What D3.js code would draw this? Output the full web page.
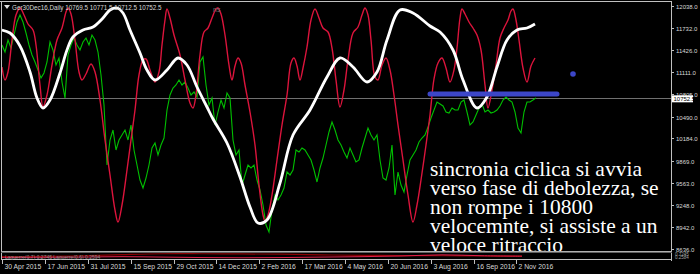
<!doctype html>
<html>
<head>
<meta charset="utf-8"/>
<style>
    html, body { margin: 0; padding: 0; background: #000; }
    svg { display: block; }
</style>
<script src="https://d3js.org/d3.v7.min.js"></script>
</head>
<body>
<svg id="chart" width="700" height="274"></svg>
<script>

// ---- data (price units, x = daily bar index) ----
var symbolTitle = "Ger30Dec16,Daily  10769.5 10771.5 10712.5 10752.5";
var lastPrice = 10752.5;
var priceTicks = [12038, 11732, 11426, 11111, 10805, 10490, 10184, 9869, 9563, 9248, 8942, 8636];
var dateLabels = ["30 Apr 2015", "17 Jun 2015", "31 Jul 2015", "15 Sep 2015", "29 Oct 2015", "14 Dec 2015",
                  "2 Feb 2016", "17 Mar 2016", "4 May 2016", "20 Jun 2016", "3 Aug 2016", "16 Sep 2016", "2 Nov 2016"];
var dateBars = [0, 43, 86, 129, 172, 214, 257, 300, 343, 386, 429, 472, 514];

// close prices, one value every 3 bars
var closeStep = 3;
var closes = [
    11492,11394,11562,11450,11632,11814,11912,11814,11660,11492,
    11352,11254,11142,11030,11100,11254,11534,11422,11212,11310,
    10974,10750,11352,11492,11590,11492,11422,11534,11590,11492,
    11632,11562,11394,11072,10652,9812,10162,10302,10022,10162,
    10232,10302,10162,10372,10022,9812,9602,9490,9630,9812,
    10050,10120,9952,10092,10190,10582,10792,10890,10932,11002,
    10932,10974,10890,10792,10834,10764,11254,11324,10932,10652,
    10750,10372,10554,10722,10610,10820,10750,10162,9952,10022,
    9532,9672,9812,9770,9812,9602,9462,9252,8972,8874,
    9182,9392,9322,9392,9490,9714,9672,9742,10022,9994,
    10050,10022,9952,9882,9742,9574,9770,9910,10092,10274,
    10414,10302,10162,10092,9994,9910,10050,9952,9854,9882,
    10050,10190,10330,10232,10162,10232,9882,9630,9602,9770,
    10092,9392,9714,9532,9434,9672,9882,9952,10022,10134,
    10190,10232,10344,10470,10582,10694,10666,10638,10554,10540,
    10610,10582,10582,10694,10722,10554,10372,10414,10512,10610,
    10666,10554,10582,10540,10554,10582,10638,10722,10764,10722,
    10694,10554,10330,10260,10554,10694,10694,10722,10752.5
];

// slow cycle (white) [bar, value]
var slowCycle = [[0,11702],[8,11660],[18,11478],[28,11114],[35,10750],[41,10610],[48,10722],[58,11100],[65,11422],
    [71,11604],[81,11702],[91,11744],[101,11870],[108,11982],[115,12010],[121,11940],[128,11702],[138,11380],
    [145,11142],[153,11002],[165,11142],[176,11310],[185,11212],[195,10904],[205,10624],[211,10456],[225,10120],
    [238,9644],[248,9224],[256,9000],[265,9042],[278,9560],[291,10232],[308,10582],[325,11044],[338,11310],
    [351,11184],[365,10974],[375,11114],[385,11562],[398,11982],[411,11940],[428,11758],[438,11674],[451,11422],
    [461,11002],[475,10610],[485,10764],[495,11184],[505,11562],[515,11702],[525,11730],[533,11786]];

// fast cycle (red) [bar, value]
var fastCycle = [[0,11184],[3,11002],[6,11114],[10,11562],[14,11912],[18,12010],[22,11912],[26,11786],[31,11702],
    [34,11492],[38,10932],[41,10624],[45,10792],[50,11212],[55,11562],[60,11730],[64,11954],[66,12010],[69,11926],
    [73,11562],[77,11114],[80,11002],[84,11086],[89,11226],[93,11114],[98,10722],[103,10162],[108,9672],[113,9182],
    [116,9014],[120,9252],[125,9742],[129,10162],[133,10582],[137,11072],[141,11282],[144,11296],[148,11142],
    [153,10974],[157,11114],[160,11492],[163,11842],[165,11996],[168,11870],[172,11632],[178,11352],[183,11002],
    [188,10680],[191,10610],[194,10792],[198,11352],[202,11674],[206,11730],[210,11870],[214,11996],[216,12010],
    [219,11926],[223,11632],[227,11212],[230,11002],[233,11198],[236,11310],[239,11240],[243,10932],[248,10554],
    [253,10092],[257,9532],[261,9112],[263,9028],[266,9112],[270,9392],[275,9882],[280,10372],[285,10792],
    [289,11240],[292,11310],[295,11198],[298,11002],[301,11170],[305,11464],[309,11842],[313,11996],[317,11870],
    [321,11730],[326,11674],[330,11450],[334,11002],[338,10624],[342,10862],[346,11282],[351,11660],[356,11744],
    [360,11912],[363,12010],[366,11912],[369,11562],[373,11044],[376,11002],[380,11212],[384,11310],[388,11142],
    [392,10792],[396,10372],[401,9882],[406,9392],[411,9014],[415,9252],[419,9602],[424,10092],[428,10512],
    [432,11016],[436,11240],[440,11310],[444,11170],[448,10974],[452,11142],[455,11450],[458,11870],[460,11996],
    [463,11926],[467,11814],[471,11730],[475,11632],[479,11422],[483,10932],[486,10610],[490,10862],[494,11212],
    [498,11590],[502,11730],[506,11842],[509,11968],[511,11996],[514,11842],[517,11562],[521,11170],[525,10974],
    [529,11198],[533,11310]];

// drawn level and marker
var levelPrice = 10805, levelFrom = 428, levelTo = 555;
var markerBar = 571, markerPrice = 11086;

// sub window (0..1), one value every 40 bars
var subStep = 40;
var lagSlow = [0.3, 0.35, 0.5, 0.75, 0.95, 0.95, 0.9, 0.85, 0.7, 0.6, 0.55, 0.5, 0.45, 0.4];
var lagFast = [0.1, 0.15, 0.2, 0.3, 0.2, 0.1, 0.05, 0.1, 0.2, 0.3, 0.45, 0.7, 0.5, 0.4];
var subLabel = "Laguerre(0.7) 0.2745   Laguerre(0.6) 0.2594";
var subAxisLabels = ["0.7245", "0.2584"];

var noteLines = ["sincronia ciclica si avvia", "verso fase di debolezza, se", "non rompe i 10800",
                 "velocemnte, si assiste a un", "veloce ritraccio"];

// ---- drawing ----
var svg = d3.select("#chart");
var uiFont = "'Liberation Sans', Arial, sans-serif";

var x = d3.scaleLinear().domain([0, 669]).range([2, 671]);
var y = d3.scaleLinear().domain([8636, 12038]).range([249, 6]);
var ySub = d3.scaleLinear().domain([0, 1]).range([258, 253.5]);

svg.append("rect").attr("width", 700).attr("height", 274).attr("fill", "#000");

svg.append("clipPath").attr("id", "pane")
    .append("rect").attr("x", 2).attr("y", 2).attr("width", 669).attr("height", 249);
svg.append("clipPath").attr("id", "sub")
    .append("rect").attr("x", 2).attr("y", 253).attr("width", 669).attr("height", 6);

// bid line
svg.append("line")
    .attr("x1", 2).attr("x2", 671)
    .attr("y1", Math.round(y(lastPrice)) + 0.5).attr("y2", Math.round(y(lastPrice)) + 0.5)
    .attr("stroke", "#707070").attr("stroke-width", 1);

var pane = svg.append("g").attr("clip-path", "url(#pane)");

var closeLine = d3.line()
    .x(function(d, i) { return x(i * closeStep); })
    .y(function(d) { return y(d); });
pane.append("path").datum(closes)
    .attr("d", closeLine).attr("fill", "none")
    .attr("stroke", "#00c000").attr("stroke-width", 1.1);

var cycleLine = d3.line()
    .x(function(d) { return x(d[0]); })
    .y(function(d) { return y(d[1]); })
    .curve(d3.curveCatmullRom.alpha(0.5));

pane.append("path").datum(fastCycle)
    .attr("d", cycleLine).attr("fill", "none")
    .attr("stroke", "#dc143c").attr("stroke-width", 1.4);

pane.append("path").datum(slowCycle)
    .attr("d", cycleLine).attr("fill", "none")
    .attr("stroke", "#ffffff").attr("stroke-width", 2.8);

// hand drawn level + dot
pane.append("line")
    .attr("x1", x(levelFrom)).attr("x2", x(levelTo))
    .attr("y1", y(levelPrice)).attr("y2", y(levelPrice))
    .attr("stroke", "#3c46c8").attr("stroke-width", 5).attr("stroke-linecap", "round");
pane.append("circle")
    .attr("cx", x(markerBar)).attr("cy", y(markerPrice)).attr("r", 2.8)
    .attr("fill", "#3c46c8");

// note text
var note = svg.append("text")
    .attr("x", 430)
    .attr("fill", "#ffffff")
    .style("font-family", "'Liberation Serif', 'Times New Roman', serif")
    .style("font-size", "21.5px");
note.selectAll("tspan").data(noteLines).enter().append("tspan")
    .attr("x", 430)
    .attr("y", function(d, i) { return 176 + i * 19; })
    .text(function(d) { return d; });

// header
svg.append("path").attr("d", "M4,5 L10,5 L7,9 Z").attr("fill", "#e0e0e0");
svg.append("text").attr("x", 12).attr("y", 9.5)
    .attr("fill", "#d8d8d8")
    .style("font-family", uiFont).style("font-size", "6.3px")
    .text(symbolTitle);
svg.append("text").attr("x", 213).attr("y", 12)
    .attr("fill", "#707070")
    .style("font-family", uiFont).style("font-size", "7px")
    .text("ns");

// frame
svg.append("line").attr("x1", 0).attr("x2", 672).attr("y1", 1.5).attr("y2", 1.5)
    .attr("stroke", "#c0c0c0").attr("stroke-width", 1);
svg.append("line").attr("x1", 1.5).attr("x2", 1.5).attr("y1", 1).attr("y2", 260)
    .attr("stroke", "#c0c0c0").attr("stroke-width", 1);
svg.append("line").attr("x1", 671.5).attr("x2", 671.5).attr("y1", 1).attr("y2", 261)
    .attr("stroke", "#c0c0c0").attr("stroke-width", 1);
svg.append("line").attr("x1", 1).attr("x2", 672).attr("y1", 251.5).attr("y2", 251.5)
    .attr("stroke", "#b0b0b0").attr("stroke-width", 1);
svg.append("line").attr("x1", 1).attr("x2", 672).attr("y1", 252.5).attr("y2", 252.5)
    .attr("stroke", "#606060").attr("stroke-width", 1);
svg.append("line").attr("x1", 1).attr("x2", 672).attr("y1", 259.5).attr("y2", 259.5)
    .attr("stroke", "#c0c0c0").attr("stroke-width", 1);

// sub window
var sub = svg.append("g").attr("clip-path", "url(#sub)");
var subLine = d3.line()
    .x(function(d, i) { return x(i * subStep); })
    .y(function(d) { return ySub(d); })
    .curve(d3.curveCatmullRom);
sub.append("path").datum(lagSlow).attr("d", subLine)
    .attr("fill", "none").attr("stroke", "#8b0000").attr("stroke-width", 1.2);
sub.append("path").datum(lagFast).attr("d", subLine)
    .attr("fill", "none").attr("stroke", "#e0204a").attr("stroke-width", 1);
svg.append("text").attr("x", 5).attr("y", 258.5)
    .attr("fill", "#8a8a8a")
    .style("font-family", uiFont).style("font-size", "5px")
    .text(subLabel);
svg.selectAll(".subax").data(subAxisLabels).enter().append("text")
    .attr("class", "subax")
    .attr("x", 675)
    .attr("y", function(d, i) { return 255.5 + i * 3.5; })
    .attr("fill", "#a0a0a0")
    .style("font-family", uiFont).style("font-size", "4.5px")
    .text(function(d) { return d; });

// price axis
var yAxis = svg.append("g");
priceTicks.forEach(function(p) {
    var py = Math.round(y(p)) + 0.5;
    yAxis.append("line").attr("x1", 671).attr("x2", 674).attr("y1", py).attr("y2", py)
        .attr("stroke", "#c0c0c0");
    yAxis.append("text").attr("x", 676).attr("y", py)
        .attr("dy", "0.35em")
        .attr("fill", "#d8d8d8")
        .style("font-family", uiFont).style("font-size", "6px")
        .text(p.toFixed(1));
});

// last price box
var by = y(lastPrice);
svg.append("rect").attr("x", 672).attr("y", by - 2.5).attr("width", 21).attr("height", 7)
    .attr("fill", "#ffffff");
svg.append("text").attr("x", 673.5).attr("y", by + 1)
    .attr("dy", "0.35em")
    .attr("fill", "#000")
    .style("font-family", uiFont).style("font-size", "6px")
    .text(lastPrice.toFixed(1));

// time axis
var xAxis = svg.append("g");
dateBars.forEach(function(b, i) {
    var px = Math.round(x(b)) + 0.5;
    xAxis.append("line").attr("x1", px).attr("x2", px).attr("y1", 260).attr("y2", 264)
        .attr("stroke", "#c0c0c0");
    xAxis.append("text").attr("x", px + 2).attr("y", 269)
        .attr("fill", "#d8d8d8")
        .style("font-family", uiFont).style("font-size", "6.8px")
        .text(dateLabels[i]);
});

</script>
</body>
</html>
